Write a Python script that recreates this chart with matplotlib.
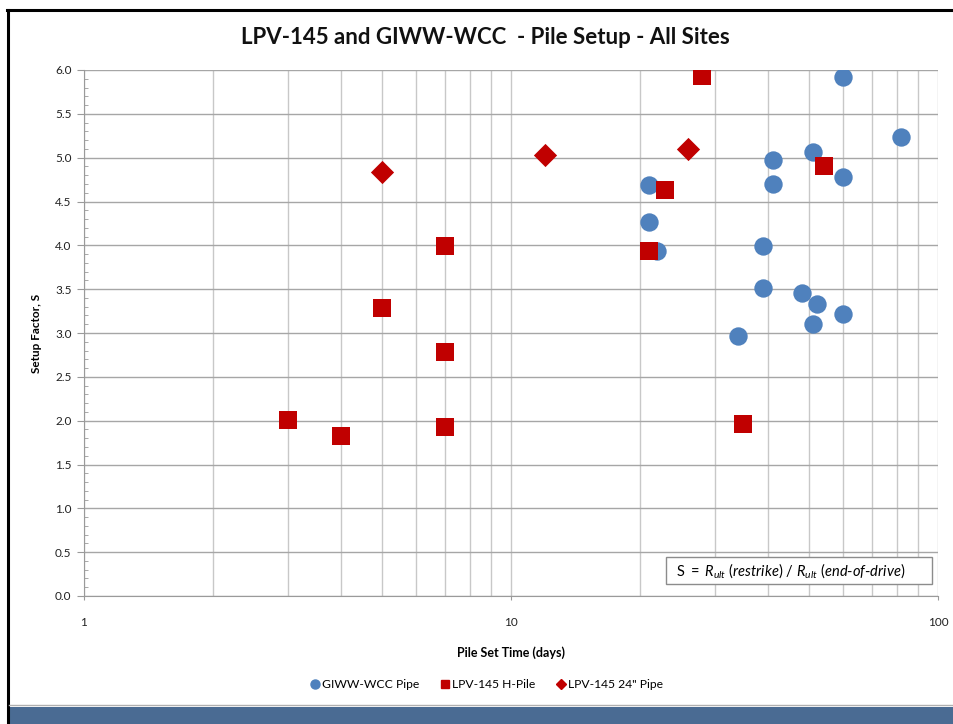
import matplotlib.pyplot as plt
from matplotlib.patches import Rectangle
from matplotlib.lines import Line2D
from matplotlib.ticker import MultipleLocator, LogLocator, NullFormatter, FixedFormatter, FixedLocator

# data
giww_days = [60, 82, 51, 41, 60, 41, 21, 21, 22, 39, 39, 48, 52, 60, 51, 34]
giww_setup = [5.92, 5.24, 5.06, 4.97, 4.78, 4.70, 4.69, 4.27, 3.93, 3.99, 3.51, 3.46, 3.33, 3.22, 3.10, 2.97]

hpile_days = [3, 4, 5, 7, 7, 7, 21, 23, 28, 35, 54]
hpile_setup = [2.01, 1.83, 3.28, 3.99, 2.78, 1.93, 3.94, 4.63, 5.93, 1.96, 4.91]

pipe24_days = [5, 12, 26]
pipe24_setup = [4.84, 5.03, 5.10]

x_ticks = [1, 10, 100]
x_labels = ["1", "10", "100"]

BLUE = "#4F81BD"
RED = "#C00000"
FONT = "Lato"

plt.rcParams["font.family"] = [FONT, "DejaVu Sans"]
plt.rcParams["mathtext.fontset"] = "custom"
plt.rcParams["mathtext.rm"] = FONT
plt.rcParams["mathtext.it"] = FONT + ":italic"

fig = plt.figure(figsize=(9.54, 7.24), dpi=100)
ax = fig.add_axes([84 / 954, 1 - 596 / 724, 854 / 954, 526 / 724])

ax.scatter(giww_days, giww_setup, s=175, marker="o", color=BLUE, zorder=3, linewidths=0)
ax.scatter(hpile_days, hpile_setup, s=165, marker="s", color=RED, zorder=3, linewidths=0)
ax.scatter(pipe24_days, pipe24_setup, s=140, marker="D", color=RED, zorder=3, linewidths=0)

ax.set_xscale("log")
ax.set_xlim(1, 100)
ax.set_ylim(0, 6)

ax.xaxis.set_major_locator(FixedLocator(x_ticks))
ax.xaxis.set_major_formatter(FixedFormatter(x_labels))
ax.xaxis.set_minor_locator(LogLocator(base=10, subs=range(2, 10)))
ax.xaxis.set_minor_formatter(NullFormatter())
ax.yaxis.set_major_locator(MultipleLocator(0.5))
ax.yaxis.set_minor_locator(MultipleLocator(0.1))
ax.yaxis.set_major_formatter(plt.FuncFormatter(lambda v, p: f"{v:.1f}"))

ax.grid(True, axis="y", which="major", color="#a6a6a6", linewidth=1.0)
ax.grid(True, axis="x", which="both", color="#c8c8c8", linewidth=1.0)
ax.set_axisbelow(True)

for side in ["top", "right"]:
    ax.spines[side].set_visible(False)
for side in ["left", "bottom"]:
    ax.spines[side].set_color("#9a9a9a")

ax.tick_params(axis="y", which="major", direction="out", length=5, color="#9a9a9a",
               labelsize=8.5, pad=4, labelcolor="#222222")
ax.tick_params(axis="y", which="minor", direction="in", length=3, color="#9a9a9a")
ax.tick_params(axis="x", which="major", direction="out", length=3, color="#9a9a9a",
               labelsize=8.5, pad=12, labelcolor="#222222")
ax.tick_params(axis="x", which="minor", length=0)

ax.set_xlabel("Pile Set Time (days)", fontsize=9, fontweight="bold", labelpad=13)
ax.set_ylabel("Setup Factor, S", fontsize=8.5, fontweight="bold", labelpad=9)

fig.text(485 / 954, 1 - 38 / 724, "LPV-145 and GIWW-WCC  - Pile Setup - All Sites",
         ha="center", va="center", fontsize=16, fontweight="bold", color="#111111")

# annotation box
ax.add_patch(Rectangle((0.6815, 0.0228), 0.3115, 0.0513, transform=ax.transAxes,
                       facecolor="white", edgecolor="#8c8c8c", linewidth=1.0, zorder=4))
ax.text(0.693, 0.049,
        r"$\mathrm{S\ =\ }R_{ult}\ (restrike)\ /\ R_{ult}\ (end\text{-}of\text{-}drive)$",
        transform=ax.transAxes, ha="left", va="center", fontsize=10.5, zorder=5)

handles = [
    Line2D([], [], marker="o", color=BLUE, linestyle="none", markersize=6.5),
    Line2D([], [], marker="s", color=RED, linestyle="none", markersize=6),
    Line2D([], [], marker="D", color=RED, linestyle="none", markersize=5),
]
fig.legend(handles, ["GIWW-WCC Pipe", "LPV-145 H-Pile", 'LPV-145 24" Pipe'],
           loc="center", bbox_to_anchor=(486 / 954, 1 - 685 / 724), ncol=3, frameon=False,
           fontsize=8.7, handletextpad=0.1, columnspacing=1.6, handlelength=1.0)

# outer frame and bottom band
fig.add_artist(Line2D([8 / 954, 8 / 954], [0, 1 - 10 / 724], color="black", linewidth=2.2,
                      transform=fig.transFigure))
fig.add_artist(Line2D([7 / 954, 1], [1 - 10 / 724, 1 - 10 / 724], color="black", linewidth=2.2,
                      transform=fig.transFigure))
fig.add_artist(Line2D([9 / 954, 1], [1 - 705 / 724, 1 - 705 / 724], color="#b0b0b0", linewidth=1.0,
                      transform=fig.transFigure))
fig.add_artist(Rectangle((9 / 954, 0), 1, 17 / 724, transform=fig.transFigure,
                         facecolor="#4a6b93", edgecolor="none"))

fig.savefig("out.png", dpi=100)
